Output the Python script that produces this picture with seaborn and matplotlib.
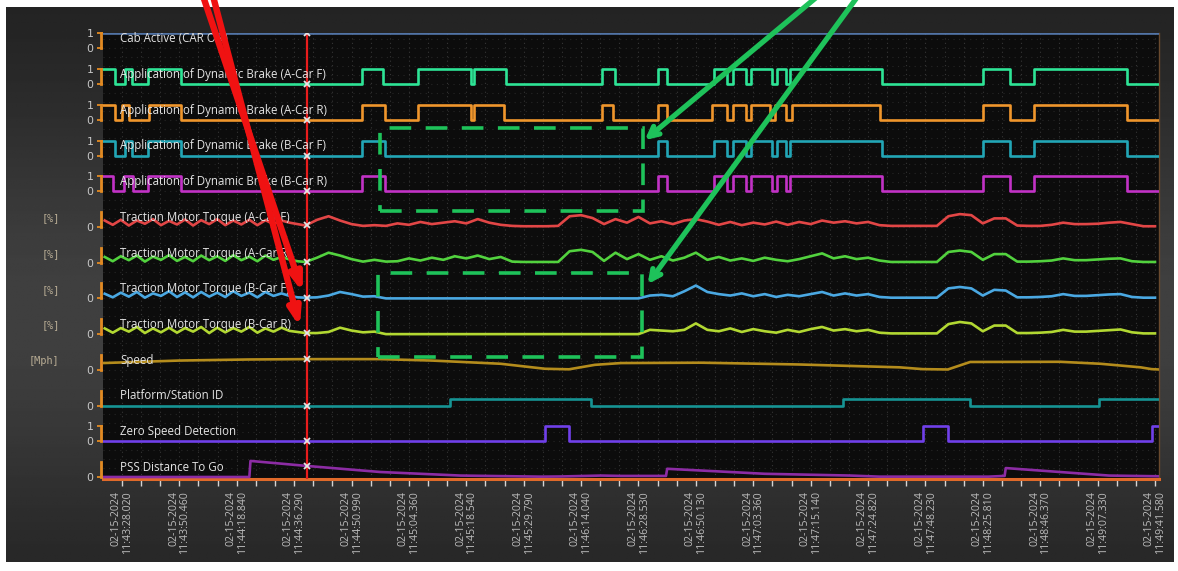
import numpy as np
import matplotlib
matplotlib.use('Agg')
import matplotlib.pyplot as plt
import matplotlib.ticker as ticker
import matplotlib.transforms as mtransforms
from matplotlib.patches import Rectangle
import seaborn as sns

# ---------------- data (x = sample index, 100 samples per labelled tick) ----------------
tick_date = '02-15-2024'
tick_times = ['11:43:28.020', '11:43:50.460', '11:44:18.840', '11:44:36.290', '11:44:50.990',
              '11:45:04.360', '11:45:18.540', '11:45:29.790', '11:46:14.040', '11:46:28.530',
              '11:46:50.130', '11:47:03.360', '11:47:15.140', '11:47:24.820', '11:47:48.230',
              '11:48:25.810', '11:48:46.370', '11:49:07.330', '11:49:41.580']

cab_t = [-33, 1807]
cab_v = [1, 1]

brake_af_t = [-33, -12, 5, 17, 45, 103, 418, 455, 516, 608, 613, 669, 836, 859, 934, 949, 1031, 1054,
              1064, 1087, 1096, 1132, 1141, 1157, 1164, 1324, 1500, 1547, 1589, 1752, 1807]
brake_af_v = [1, 0, 1, 0, 1, 0, 1, 0, 1, 0, 1, 0, 1, 0, 1, 0, 1, 0, 1, 0, 1, 0, 1, 0, 1, 0, 1, 0, 1, 0, 0]

brake_ar_t = [-33, -12, 0, 12, 48, 103, 418, 458, 516, 608, 613, 666, 836, 856, 934, 949, 1029, 1054,
              1064, 1087, 1096, 1129, 1138, 1157, 1167, 1320, 1500, 1547, 1589, 1752, 1807]
brake_ar_v = [1, 0, 1, 0, 1, 0, 1, 0, 1, 0, 1, 0, 1, 0, 1, 0, 1, 0, 1, 0, 1, 0, 1, 0, 1, 0, 1, 0, 1, 0, 0]

brake_bf_t = [-33, -12, 5, 17, 45, 103, 418, 458, 934, 949, 1031, 1054, 1064, 1087, 1096, 1132, 1141,
              1157, 1164, 1324, 1500, 1547, 1589, 1752, 1807]
brake_bf_v = [1, 0, 1, 0, 1, 0, 1, 0, 1, 0, 1, 0, 1, 0, 1, 0, 1, 0, 1, 0, 1, 0, 1, 0, 0]

brake_br_t = [-33, -16, 3, 20, 45, 103, 418, 458, 934, 949, 1031, 1054, 1064, 1087, 1096, 1132, 1141,
              1157, 1164, 1324, 1500, 1547, 1589, 1752, 1807]
brake_br_v = [1, 0, 1, 0, 1, 0, 1, 0, 1, 0, 1, 0, 1, 0, 1, 0, 1, 0, 1, 0, 1, 0, 1, 0, 0]

# traction motor torque [%], sampled on a common index grid
torque_t = [-30, -16, -2, 12, 26, 40, 54, 68, 82, 96, 110, 124, 138, 152, 166, 180, 194, 208, 222,
            236, 250, 264, 278, 292, 306, 320,
            340, 360, 380, 400, 420, 440, 460, 480, 500, 520,
            540, 560, 580, 600, 620, 640, 660, 680, 700, 720,
            740, 760, 780, 800, 820, 840, 860, 880, 900, 920,
            940, 960, 980, 1000, 1020, 1040, 1060, 1080, 1100, 1120,
            1140, 1160, 1180, 1200, 1220, 1240, 1260, 1280, 1300, 1320,
            1340, 1360, 1380, 1400, 1420, 1440, 1460, 1480, 1500, 1520,
            1540, 1560, 1580, 1600, 1620, 1640, 1660, 1680, 1700, 1720,
            1740, 1760, 1780, 1800]
torque_af = [18, 6, 20, 4, 18, 9, 22, 5, 17, 7, 21, 4, 19, 8, 22, 5, 18, 7, 20, 5, 19, 8, 18, 12, 8, 4,
             20, 30, 18, 8, 3, 5, 3, 10, 6, 14,
             8, 12, 16, 10, 22, 12, 6, 3, 2, 2,
             2, 3, 30, 33, 25, 8, 22, 12, 28, 10,
             16, 8, 18, 22, 15, 6, 14, 5, 12, 7,
             15, 6, 14, 8, 18, 12, 16, 10, 14, 5,
             3, 3, 3, 3, 3, 30, 36, 33, 10, 24,
             24, 4, 3, 3, 6, 12, 8, 8, 9, 12,
             14, 8, 2, 2]
torque_ar = [16, 4, 18, 7, 20, 3, 17, 8, 21, 5, 16, 4, 20, 7, 18, 5, 21, 7, 17, 4, 20, 8, 16, 9, 4, 2,
             14, 28, 20, 10, 3, 8, 3, 4, 12, 6,
             14, 8, 18, 12, 20, 10, 16, 3, 2, 2,
             2, 2, 32, 36, 30, 5, 28, 10, 24, 8,
             18, 6, 14, 28, 8, 16, 6, 12, 5, 14,
             8, 4, 10, 18, 26, 12, 18, 10, 14, 6,
             2, 2, 2, 2, 2, 30, 34, 30, 8, 24,
             24, 3, 3, 4, 6, 12, 7, 7, 9, 11,
             12, 4, 2, 2]
torque_bf = [13, 3, 16, 5, 18, 2, 14, 7, 20, 4, 17, 3, 18, 5, 16, 4, 20, 7, 16, 3, 18, 7, 14, 7, 3, 2,
             3, 8, 18, 12, 5, 6, 0, 0, 0, 0,
             0, 0, 0, 0, 0, 0, 0, 0, 0, 0,
             0, 0, 0, 0, 0, 0, 0, 0, 0, 8,
             10, 6, 20, 36, 18, 12, 8, 14, 6, 12,
             4, 10, 6, 12, 18, 8, 14, 8, 12, 4,
             2, 2, 2, 2, 2, 28, 32, 28, 8, 24,
             22, 3, 3, 4, 6, 12, 7, 7, 9, 11,
             12, 4, 2, 2]
torque_br = [16, 4, 17, 7, 20, 3, 16, 5, 18, 4, 17, 7, 20, 3, 18, 5, 17, 7, 20, 4, 16, 7, 18, 9, 6, 3,
             3, 6, 18, 10, 5, 7, 0, 0, 0, 0,
             0, 0, 0, 0, 0, 0, 0, 0, 0, 0,
             0, 0, 0, 0, 0, 0, 0, 0, 0, 12,
             10, 8, 12, 30, 12, 8, 16, 6, 14, 8,
             4, 12, 6, 14, 20, 10, 14, 8, 12, 4,
             2, 2, 2, 2, 2, 28, 34, 30, 8, 24,
             24, 3, 3, 4, 6, 12, 7, 7, 9, 11,
             13, 5, 2, 2]

speed_t = [-33, 100, 220, 320, 450, 540, 660, 737, 779, 824, 870, 1010, 1180, 1355, 1395, 1439,
           1478, 1635, 1705, 1775, 1794, 1807]
speed_v = [38, 52, 58, 60, 60, 52, 34, 6, 3, 28, 38, 40, 30, 14, 4, 2, 44, 45, 34, 14, 4, 2]

station_t = [-33, 571, 817, 1256, 1477, 1702, 1807]
station_v = [0, 1, 0, 1, 0, 1, 1]

zero_speed_t = [-33, 737, 779, 1395, 1439, 1794, 1807]
zero_speed_v = [0, 1, 0, 1, 0, 1, 1]

pss_t = [-33, 222, 224, 322, 450, 590, 730, 765, 835, 870, 948, 950, 1120, 1270, 1320, 1510,
         1538, 1540, 1720, 1807]
pss_v = [0, 0, 450, 310, 140, 40, 10, 15, 40, 30, 30, 230, 90, 40, 10, 10, 30, 250, 40, 20]

cursor_x = 322

# ---------------- styling ----------------
BIT_H = 0.42          # height of a "1" level in lane units
TORQUE_K = 0.01       # lane units per %
SPEED_K = 0.005       # lane units per mph
STATION_K = 0.17
PSS_K = 0.001         # lane units per ft

# (label, lane, t, v, scale, colour, step, kind)
traces = [
    ('Cab Active (CAR ON)', 12, cab_t, cab_v, BIT_H, '#5274a6', True, 'bit'),
    ('Application of Dynamic Brake (A-Car F)', 11, brake_af_t, brake_af_v, BIT_H, '#2ee496', True, 'bit'),
    ('Application of Dynamic Brake (A-Car R)', 10, brake_ar_t, brake_ar_v, BIT_H, '#f0962c', True, 'bit'),
    ('Application of Dynamic Brake (B-Car F)', 9, brake_bf_t, brake_bf_v, BIT_H, '#22a6b6', True, 'bit'),
    ('Application of Dynamic Brake (B-Car R)', 8, brake_br_t, brake_br_v, BIT_H, '#c232c6', True, 'bit'),
    ('Traction Motor Torque (A-Car F)', 7, torque_t, torque_af, TORQUE_K, '#e24646', False, '[%]'),
    ('Traction Motor Torque (A-Car R)', 6, torque_t, torque_ar, TORQUE_K, '#52d23e', False, '[%]'),
    ('Traction Motor Torque (B-Car F)', 5, torque_t, torque_bf, TORQUE_K, '#4aa8e2', False, '[%]'),
    ('Traction Motor Torque (B-Car R)', 4, torque_t, torque_br, TORQUE_K, '#b2d832', False, '[%]'),
    ('Speed', 3, speed_t, speed_v, SPEED_K, '#b48c1c', False, '[Mph]'),
    ('Platform/Station ID', 2, station_t, station_v, STATION_K, '#169494', True, 'id'),
    ('Zero Speed Detection', 1, zero_speed_t, zero_speed_v, BIT_H, '#7040ea', True, 'bit'),
    ('PSS Distance To Go', 0, pss_t, pss_v, PSS_K, '#8c2ca4', False, 'id'),
]

W, H = 1178, 571
fig = plt.figure(figsize=(W / 100, H / 100), dpi=100, facecolor='white')

# dark panel with soft vignette
bg = fig.add_axes([6 / W, 1 - 562 / H, 1168 / W, 555 / H])
yy, xx = np.mgrid[0:1:200j, 0:1:300j]
shade = 0.12 + 0.13 * np.exp(-((yy - 0.55) / 0.4) ** 2)
bg.imshow(shade, cmap='gray', vmin=0, vmax=1, aspect='auto', extent=(0, 1, 0, 1))
bg.set_axis_off()

ax = fig.add_axes([103 / W, 1 - 479 / H, 1056 / W, 446 / H])
ax.set_facecolor('#0c0c0c')
ax.set_xlim(-33, 1807)
ax.set_ylim(-0.056, 12.43)

# dotted background mesh
ax.xaxis.set_major_locator(ticker.FixedLocator(list(range(0, 1801, 100))))
ax.xaxis.set_minor_locator(ticker.MultipleLocator(100 / 3))
ax.grid(which='both', axis='x', color='#363636', lw=0.8, ls=(0, (1, 3)), zorder=0)
ax.hlines(np.arange(0.25, 12.4, 0.25), -33, 1807, color='#262626', lw=0.8, ls=(0, (1, 4)), zorder=0)

trans = mtransforms.blended_transform_factory(ax.transAxes, ax.transData)
yticks, ylabels = [], []
for label, lane, t, v, k, color, step, kind in traces:
    y = lane + np.asarray(v, dtype=float) * k
    sns.lineplot(x=t, y=y, ax=ax, color=color, lw=1.9, estimator=None, sort=False,
                 drawstyle='steps-post' if step else 'default', zorder=3)
    # value at the cursor
    if step:
        yc = y[np.searchsorted(t, cursor_x, side='right') - 1]
    else:
        yc = np.interp(cursor_x, t, y)
    ax.plot(cursor_x, yc, marker='x', color='#e6e6e6', ms=4.5, mew=1.3, zorder=6)
    # lane label
    ax.text(0.016, lane + 0.27, label, transform=trans, fontsize=8.3, color='#e4e4e4',
            va='center', ha='left', family='Open Sans', zorder=7)
    # orange bracket on the left edge
    ax.plot([-0.002, -0.002], [lane, lane + BIT_H], transform=trans, color='#e28a22',
            lw=2, clip_on=False, zorder=5)
    yticks.append(lane)
    ylabels.append('0')
    if kind == 'bit':
        yticks.append(lane + BIT_H)
        ylabels.append('1')
    if kind.startswith('['):
        ax.text(-0.041, lane + 0.24, kind, transform=trans, ha='right', va='center',
                family='DejaVu Sans Mono', fontsize=7.4, color='#b8ac94')

ax.set_yticks(yticks)
ax.set_yticklabels(ylabels)
ax.tick_params(axis='y', length=4, width=1.3, color='#e28a22', labelcolor='#c8c8c8',
               labelsize=7.8, pad=3)

ax.set_xticks(list(range(0, 1801, 100)))
ax.set_xticklabels([f'{tick_date}\n{t}' for t in tick_times], rotation=90, fontsize=7.6,
                   color='#bdbdbd', family='Open Sans', va='top', ha='center',
                   multialignment='right', linespacing=1.05)
ax.tick_params(axis='x', which='both', direction='out', length=5, width=1, color='#d4d4d4', pad=4)
ax.set_xlabel('')
ax.set_ylabel('')

for side in ['top', 'left']:
    ax.spines[side].set_visible(False)
ax.spines['bottom'].set_color('#e06a2a')
ax.spines['bottom'].set_linewidth(2.2)
ax.spines['right'].set_color('#6a4a2e')
ax.spines['right'].set_linewidth(1)

# cursor
ax.axvline(cursor_x, color='#e81c1c', lw=1.6, zorder=4)

# green dashed boxes (annotation)
green = '#1ec25a'
for x0, x1, y0, y1 in [(449, 908, 7.45, 9.76), (446, 906, 3.36, 5.71)]:
    ax.add_patch(Rectangle((x0, y0), x1 - x0, y1 - y0, fill=False, ec=green, lw=2.6,
                           ls=(0, (6, 4)), zorder=8))

# annotation arrows coming from above the image
red = '#f01212'
for start, tip in [((203, 575), (315, 5.17)), ((213, 575), (310, 4.20))]:
    ax.annotate('', xy=tip, xycoords='data', xytext=start, textcoords='figure pixels',
                arrowprops=dict(arrowstyle='-|>,head_length=1.0,head_width=0.35', color=red,
                                lw=4.6, shrinkA=0, shrinkB=0), annotation_clip=False, zorder=9)
for start, tip in [((818, 575), (911, 9.43)), ((858, 575), (916, 5.40))]:
    ax.annotate('', xy=tip, xycoords='data', xytext=start, textcoords='figure pixels',
                arrowprops=dict(arrowstyle='->,head_length=0.7,head_width=0.35', color=green,
                                lw=3.8, shrinkA=0, shrinkB=0), annotation_clip=False, zorder=9)

fig.savefig('out.png', dpi=100, facecolor='white')
